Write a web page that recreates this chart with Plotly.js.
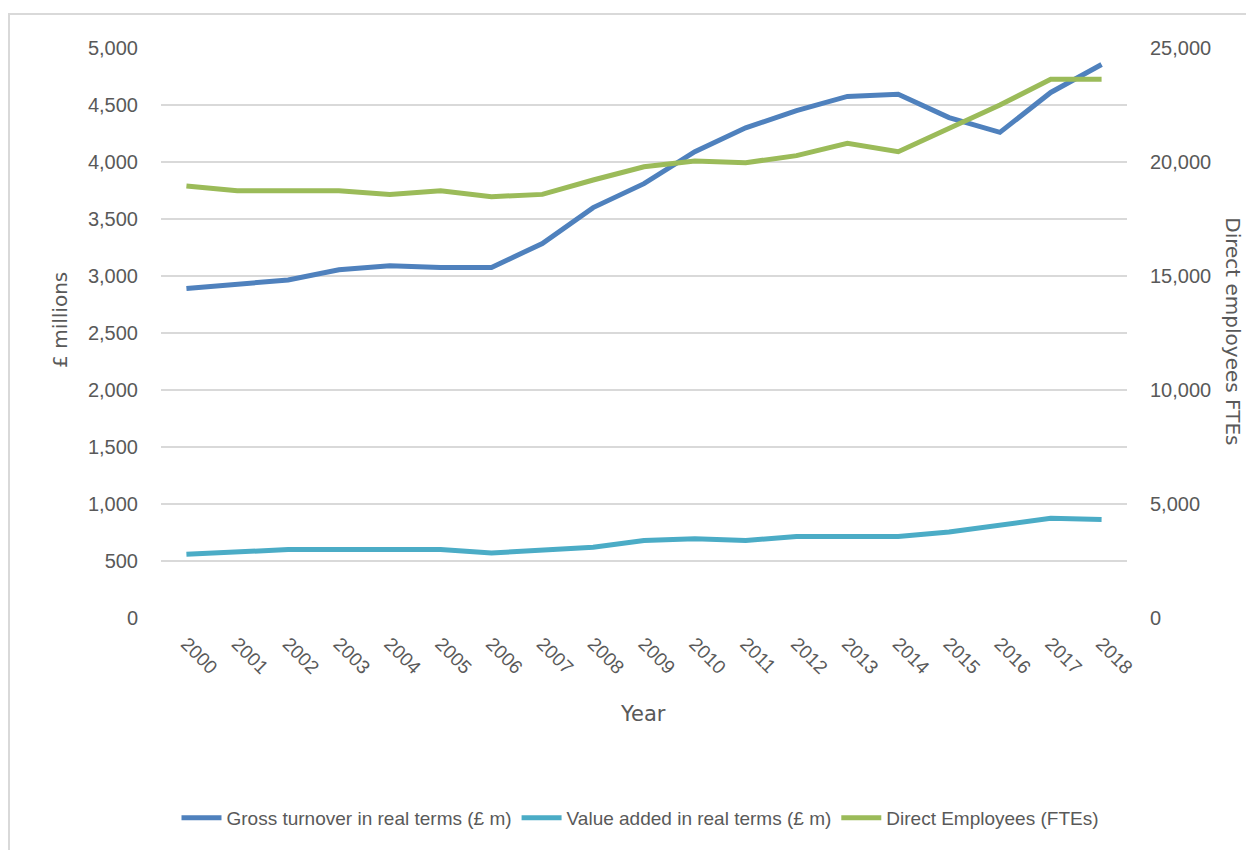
<!DOCTYPE html>
<html>
<head>
<meta charset="utf-8">
<script src="https://cdn.plot.ly/plotly-3.0.1.min.js"></script>
<style>
  html, body { margin: 0; padding: 0; background: #fff; }
  #wrap { position: relative; width: 1246px; height: 850px; }
  #chart { width: 1246px; height: 850px; }
  #frame { position: absolute; left: 8px; top: 13px; width: 1300px; height: 900px;
           border: 2px solid #D9D9D9; pointer-events: none; box-sizing: border-box; }
</style>
</head>
<body>
<div id="wrap">
  <div id="chart"></div>
  <div id="frame"></div>
</div>
<script>
const years = ["2000","2001","2002","2003","2004","2005","2006","2007","2008","2009",
               "2010","2011","2012","2013","2014","2015","2016","2017","2018"];
const grossTurnover = [2890, 2930, 2965, 3055, 3090, 3075, 3075, 3285, 3600, 3810,
                       4090, 4300, 4450, 4575, 4595, 4390, 4260, 4610, 4855];
const valueAdded = [560, 585, 600, 600, 600, 600, 570, 600, 620, 680,
                    695, 680, 715, 715, 715, 755, 815, 875, 865];
const directEmployees = [18950, 18740, 18740, 18740, 18580, 18740, 18480, 18580, 19210, 19790,
                         20040, 19970, 20280, 20820, 20450, 21500, 22500, 23630, 23630];
const leftTicks = [0, 500, 1000, 1500, 2000, 2500, 3000, 3500, 4000, 4500, 5000];
const rightTicks = [0, 5000, 10000, 15000, 20000, 25000];

const fontFam = "Liberation Sans, Arial, sans-serif";
const wideFam = "DejaVu Sans, Liberation Sans, sans-serif";
const grey = "#595959";

const traces = [
  { x: years, y: grossTurnover, type: "scatter", mode: "lines", name: "Gross turnover in real terms (£ m)",
    line: { color: "#4F81BD", width: 5 }, yaxis: "y" },
  { x: years, y: valueAdded, type: "scatter", mode: "lines", name: "Value added in real terms (£ m)",
    line: { color: "#4BACC6", width: 5 }, yaxis: "y" },
  { x: years, y: directEmployees, type: "scatter", mode: "lines", name: "Direct Employees (FTEs)",
    line: { color: "#9BBB59", width: 5 }, yaxis: "y2" }
];

const layout = {
  width: 1246, height: 850,
  margin: { l: 161, r: 119, t: 48, b: 232, autoexpand: false },
  paper_bgcolor: "#fff", plot_bgcolor: "#fff",
  font: { family: fontFam, color: grey, size: 19 },
  showlegend: true,
  legend: { orientation: "h", xref: "container", yref: "container",
            x: 640 / 1246, y: 1 - 818 / 850, xanchor: "center", yanchor: "middle",
            font: { size: 19, color: grey, family: fontFam }, itemwidth: 40, tracegroupgap: 0 },
  xaxis: {
    type: "category", range: [-0.5, 18.5], tickangle: 45,
    showgrid: false, zeroline: false, showline: false, ticks: "", ticklabelstandoff: 10,
    tickfont: { size: 19, color: grey }, fixedrange: true
  },
  yaxis: {
    range: [0, 5000], tickvals: leftTicks, tickformat: ",d",
    showgrid: true, gridcolor: "#D9D9D9", gridwidth: 1.5, zeroline: false, showline: false,
    ticks: "", ticklabelstandoff: 22, tickfont: { size: 20, color: grey }
  },
  yaxis2: {
    range: [0, 25000], tickvals: rightTicks, tickformat: ",d", overlaying: "y", side: "right",
    showgrid: false, zeroline: false, showline: false,
    ticks: "", ticklabelstandoff: 22, tickfont: { size: 20, color: grey }
  },
  annotations: [
    { text: "£ millions", xref: "paper", yref: "paper", x: (60 - 161) / 966, y: 0.523,
      textangle: -90, showarrow: false, font: { size: 20, color: grey, family: wideFam }, xanchor: "center", yanchor: "middle" },
    { text: "Direct employees FTEs", xref: "paper", yref: "paper", x: (1233 - 161) / 966, y: 0.503,
      textangle: 90, showarrow: false, font: { size: 20, color: grey, family: wideFam }, xanchor: "center", yanchor: "middle" },
    { text: "Year", xref: "paper", yref: "paper", x: (643 - 161) / 966, y: (618 - 714) / 570,
      showarrow: false, font: { size: 21, color: grey, family: wideFam }, xanchor: "center", yanchor: "middle" }
  ]
};

Plotly.newPlot("chart", traces, layout, { displayModeBar: false, staticPlot: true });
</script>
</body>
</html>
